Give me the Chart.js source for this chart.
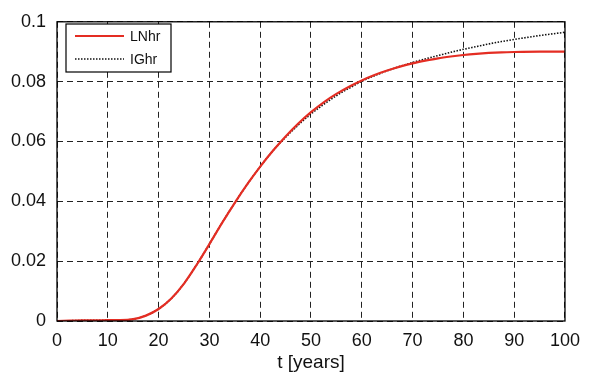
<!DOCTYPE html>
<html>
<head>
<meta charset="utf-8">
<script src="https://cdn.jsdelivr.net/npm/chart.js@4"></script>
<style>
  html, body { margin: 0; padding: 0; background: #fff; }
  #wrap { width: 589px; height: 377px; }
</style>
</head>
<body>
<div id="wrap"><canvas id="chart"></canvas></div>
<script>
// values
const years = [0, 2.5, 5, 7.5, 10, 12.5, 15, 17.5, 20, 22.5, 25, 27.5, 30, 32.5, 35, 37.5, 40, 42.5, 45, 47.5,
    50, 52.5, 55, 57.5, 60, 62.5, 65, 67.5, 70, 72.5, 75, 77.5, 80, 82.5, 85, 87.5, 90, 95, 100];
const lnhr = [0, 0.0001, 0.0002, 0.0002, 0.0003, 0.0003, 0.0006, 0.0018, 0.0040, 0.0075, 0.0125, 0.0188, 0.0257,
    0.0328, 0.0395, 0.0458, 0.0516, 0.0569, 0.0617, 0.0660, 0.0698, 0.0731, 0.0759, 0.0783, 0.0804, 0.0822,
    0.0837, 0.0850, 0.0861, 0.0870, 0.0878, 0.0884, 0.0889, 0.0893, 0.0896, 0.0898, 0.0899, 0.0900, 0.0900];
const ighr = [0, 0.0001, 0.0002, 0.0002, 0.0003, 0.0003, 0.0006, 0.0018, 0.0040, 0.0075, 0.0125, 0.0188, 0.0257,
    0.0328, 0.0395, 0.0458, 0.0516, 0.0569, 0.0614, 0.0655, 0.0692, 0.0724, 0.0753, 0.0778, 0.0801, 0.0820,
    0.0836, 0.0851, 0.0864, 0.0876, 0.0887, 0.0898, 0.0908, 0.0917, 0.0926, 0.0934, 0.0941, 0.0954, 0.0965];
const seriesNames = ['LNhr', 'IGhr'];
const xTitle = 't [years]';

const FONT = '"Liberation Sans", Arial, Helvetica, sans-serif';

function toPoints(vals) {
    return years.map((t, i) => ({x: t, y: vals[i]}));
}

// black frame round the plot area
const framePlugin = {
    id: 'frame',
    afterDatasetsDraw(chart) {
        const {ctx, chartArea: a} = chart;
        ctx.save();
        ctx.strokeStyle = '#000';
        ctx.lineWidth = 1.3;
        ctx.strokeRect(a.left, a.top, a.right - a.left, a.bottom - a.top);
        ctx.restore();
    }
};

// boxed legend in the top left corner, like the original
const boxLegend = {
    id: 'boxLegend',
    afterDraw(chart) {
        const ctx = chart.ctx;
        const x = 66, y = 24, w = 105, h = 48;
        ctx.save();
        ctx.fillStyle = '#fff';
        ctx.fillRect(x, y, w, h);
        ctx.strokeStyle = '#000';
        ctx.lineWidth = 1.2;
        ctx.strokeRect(x, y, w, h);
        chart.data.datasets.forEach((ds, i) => {
            const ly = y + 12 + i * 23;
            ctx.beginPath();
            ctx.strokeStyle = ds.borderColor;
            ctx.lineWidth = ds.borderWidth;
            ctx.setLineDash(ds.borderDash || []);
            ctx.moveTo(x + 9, ly);
            ctx.lineTo(x + 58, ly);
            ctx.stroke();
            ctx.setLineDash([]);
            ctx.fillStyle = '#111';
            ctx.font = '14px ' + FONT;
            ctx.textBaseline = 'middle';
            ctx.fillText(ds.label, x + 64, ly + 1);
        });
        ctx.restore();
    }
};

new Chart(document.getElementById('chart'), {
    type: 'line',
    data: {
        datasets: [
            {
                label: seriesNames[0],
                data: toPoints(lnhr),
                borderColor: 'rgb(228,45,35)',
                borderWidth: 2.2,
                pointRadius: 0,
                cubicInterpolationMode: 'monotone',
                fill: false
            },
            {
                label: seriesNames[1],
                data: toPoints(ighr),
                borderColor: '#111',
                borderWidth: 1.6,
                borderDash: [1.5, 1.5],
                pointRadius: 0,
                cubicInterpolationMode: 'monotone',
                fill: false
            }
        ]
    },
    options: {
        responsive: true,
        maintainAspectRatio: false,
        animation: false,
        layout: {padding: {top: 12, right: 24, left: 0, bottom: 0}},
        plugins: {
            legend: {display: false},
            tooltip: {enabled: false}
        },
        scales: {
            x: {
                type: 'linear',
                min: 0,
                max: 100,
                afterFit: s => { s.height = 56; },
                ticks: {
                    stepSize: 10,
                    color: '#111',
                    padding: 9,
                    maxRotation: 0,
                    font: {family: FONT, size: 18}
                },
                grid: {color: '#222', lineWidth: 1, drawTicks: false},
                border: {display: false, dash: [6, 4]},
                title: {
                    display: true,
                    text: xTitle,
                    color: '#111',
                    font: {family: FONT, size: 19},
                    padding: {top: 0, bottom: 3}
                }
            },
            y: {
                min: 0,
                max: 0.1,
                afterFit: s => { s.width = 57; },
                ticks: {
                    stepSize: 0.02,
                    color: '#111',
                    padding: 11,
                    font: {family: FONT, size: 18},
                    callback: v => String(+v.toFixed(2))
                },
                grid: {color: '#222', lineWidth: 1, drawTicks: false},
                border: {display: false, dash: [6, 4]}
            }
        }
    },
    plugins: [framePlugin, boxLegend]
});
</script>
</body>
</html>
